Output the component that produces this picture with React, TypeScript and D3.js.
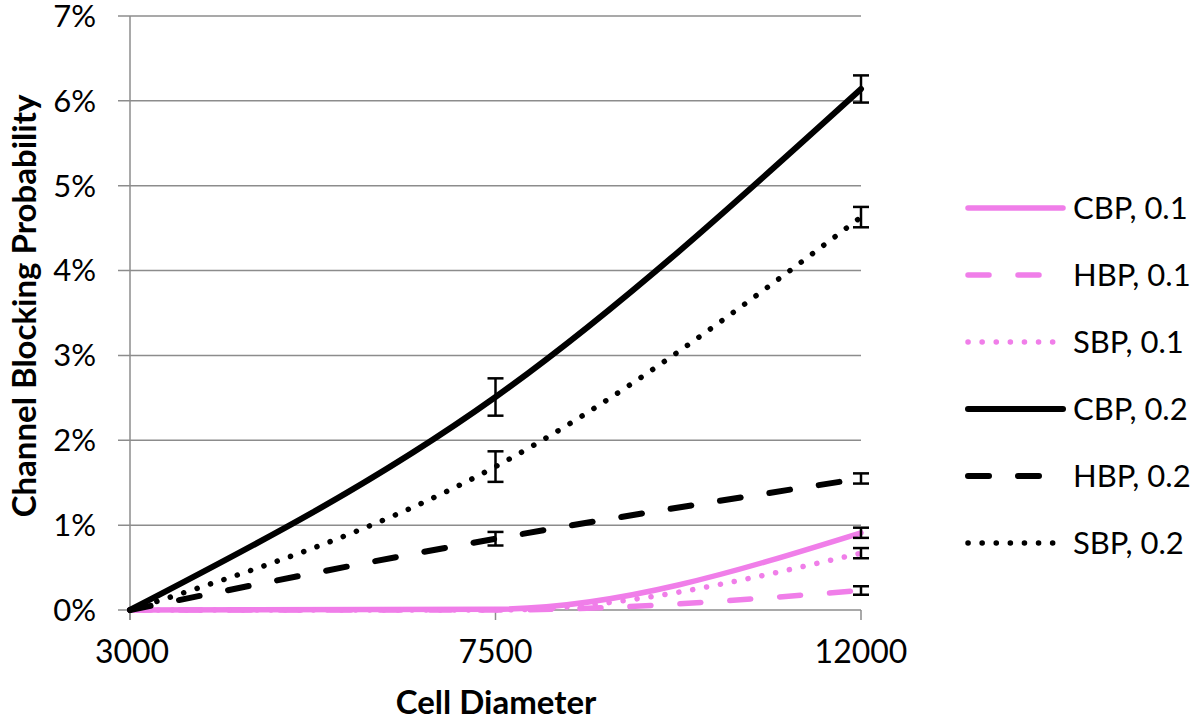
import React, { useEffect, useRef } from 'react';
import * as d3 from 'd3';

// cell diameters (categories on x axis)
const diameters = ['3000', '7500', '12000'];

// blocking probabilities (fractions)
const cbp01 = [0, 0.0001, 0.0091];
const hbp01 = [0, 0, 0.0023];
const sbp01 = [0, 0, 0.0067];
const cbp02 = [0, 0.0251, 0.0614];
const hbp02 = [0, 0.0084, 0.0155];
const sbp02 = [0, 0.0169, 0.0463];

// error bar half ranges (only shown at 7500 and 12000)
const cbp01Err = [0, 0, 0.0006];
const hbp01Err = [0, 0, 0.0005];
const sbp01Err = [0, 0, 0.0006];
const cbp02Err = [0, 0.0022, 0.0016];
const hbp02Err = [0, 0.0008, 0.0006];
const sbp02Err = [0, 0.0018, 0.0012];

const yTicks = [0, 0.01, 0.02, 0.03, 0.04, 0.05, 0.06, 0.07];

const seriesNames = ['CBP, 0.1', 'HBP, 0.1', 'SBP, 0.1', 'CBP, 0.2', 'HBP, 0.2', 'SBP, 0.2'];

const PINK = '#f07ee9';

export default function App() {
  const ref = useRef<HTMLDivElement>(null);

  useEffect(() => {
    document.body.style.margin = '0';
    const w = 1200;
    const h = 722;
    const root = d3.select(ref.current);
    root.selectAll('*').remove();

    const svg = root.append('svg')
      .attr('width', w)
      .attr('height', h)
      .style('display', 'block')
      .style('background', '#ffffff')
      .style('font-family', 'Lato, "Open Sans", sans-serif');

    const left = 130, right = 861, top = 16, bottom = 610;

    const x = d3.scalePoint<string>().domain(diameters).range([left, right]);
    const y = d3.scaleLinear().domain([0, 0.07]).range([bottom, top]);

    // grid
    svg.append('g').selectAll('line')
      .data(yTicks)
      .enter()
      .append('line')
      .attr('x1', left - 12)
      .attr('x2', right)
      .attr('y1', d => y(d))
      .attr('y2', d => y(d))
      .attr('stroke', '#8c8c8c')
      .attr('stroke-width', 1.5);

    // y axis line
    svg.append('line')
      .attr('x1', left).attr('x2', left)
      .attr('y1', top).attr('y2', bottom + 10)
      .attr('stroke', '#8c8c8c')
      .attr('stroke-width', 1.5);

    // x ticks
    svg.append('g').selectAll('line')
      .data(diameters)
      .enter()
      .append('line')
      .attr('x1', d => x(d)!)
      .attr('x2', d => x(d)!)
      .attr('y1', bottom)
      .attr('y2', bottom + 10)
      .attr('stroke', '#8c8c8c')
      .attr('stroke-width', 1.5);

    // y tick labels
    svg.append('g').selectAll('text')
      .data(yTicks)
      .enter()
      .append('text')
      .attr('x', 96)
      .attr('y', d => y(d))
      .attr('dy', '0.35em')
      .attr('text-anchor', 'end')
      .attr('font-size', 31)
      .attr('fill', '#000')
      .text(d => d3.format('.0%')(d));

    // x tick labels
    svg.append('g').selectAll('text')
      .data(diameters)
      .enter()
      .append('text')
      .attr('x', d => x(d)! + (d === '3000' ? 2 : 0))
      .attr('y', 652)
      .attr('dy', '0.35em')
      .attr('text-anchor', 'middle')
      .attr('font-size', 32)
      .attr('fill', '#000')
      .text(d => d);

    // axis titles
    svg.append('text')
      .attr('x', 496)
      .attr('y', 702)
      .attr('dy', '0.35em')
      .attr('text-anchor', 'middle')
      .attr('font-size', 33)
      .attr('font-weight', 'bold')
      .text('Cell Diameter');

    svg.append('text')
      .attr('transform', 'translate(24,306) rotate(-90)')
      .attr('dy', '0.35em')
      .attr('text-anchor', 'middle')
      .attr('font-size', 33)
      .attr('font-weight', 'bold')
      .text('Channel Blocking Probability');

    const series = [
      { name: seriesNames[0], values: cbp01, err: cbp01Err, color: PINK, dash: null, width: 5.5 },
      { name: seriesNames[1], values: hbp01, err: hbp01Err, color: PINK, dash: '21 29', width: 5.5 },
      { name: seriesNames[2], values: sbp01, err: sbp01Err, color: PINK, dash: '0.1 14', width: 5.5 },
      { name: seriesNames[3], values: cbp02, err: cbp02Err, color: '#000', dash: null, width: 6 },
      { name: seriesNames[4], values: hbp02, err: hbp02Err, color: '#000', dash: '21 29', width: 6 },
      { name: seriesNames[5], values: sbp02, err: sbp02Err, color: '#000', dash: '0.1 14', width: 5.5 },
    ];

    const line = d3.line<number>()
      .x((d, i) => x(diameters[i])!)
      .y(d => y(d))
      .curve(d3.curveMonotoneX);

    series.forEach(s => {
      svg.append('path')
        .datum(s.values)
        .attr('d', line)
        .attr('fill', 'none')
        .attr('stroke', s.color)
        .attr('stroke-width', s.width)
        .attr('stroke-linecap', 'round')
        .attr('stroke-dasharray', s.dash);
    });

    // error bars
    series.forEach(s => {
      const g = svg.append('g').attr('stroke', '#000').attr('stroke-width', 2.5);
      s.values.forEach((v, i) => {
        const e = s.err[i];
        if (!e) return;
        const cx = x(diameters[i])!;
        const y1 = y(v - e), y2 = y(v + e);
        g.append('line').attr('x1', cx).attr('x2', cx).attr('y1', y1).attr('y2', y2);
        g.append('line').attr('x1', cx - 8).attr('x2', cx + 8).attr('y1', y1).attr('y2', y1);
        g.append('line').attr('x1', cx - 8).attr('x2', cx + 8).attr('y1', y2).attr('y2', y2);
      });
    });

    // legend
    const legend = svg.append('g');
    series.forEach((s, i) => {
      const ly = 208 + i * 67;
      legend.append('line')
        .attr('x1', 968).attr('x2', 1063)
        .attr('y1', ly).attr('y2', ly)
        .attr('stroke', s.color)
        .attr('stroke-width', s.width)
        .attr('stroke-linecap', 'round')
        .attr('stroke-dasharray', s.dash);
      legend.append('text')
        .attr('x', 1073)
        .attr('y', ly)
        .attr('dy', '0.35em')
        .attr('font-size', 31)
        .attr('fill', '#000')
        .text(s.name);
    });
  }, []);

  return <div ref={ref}></div>;
}
